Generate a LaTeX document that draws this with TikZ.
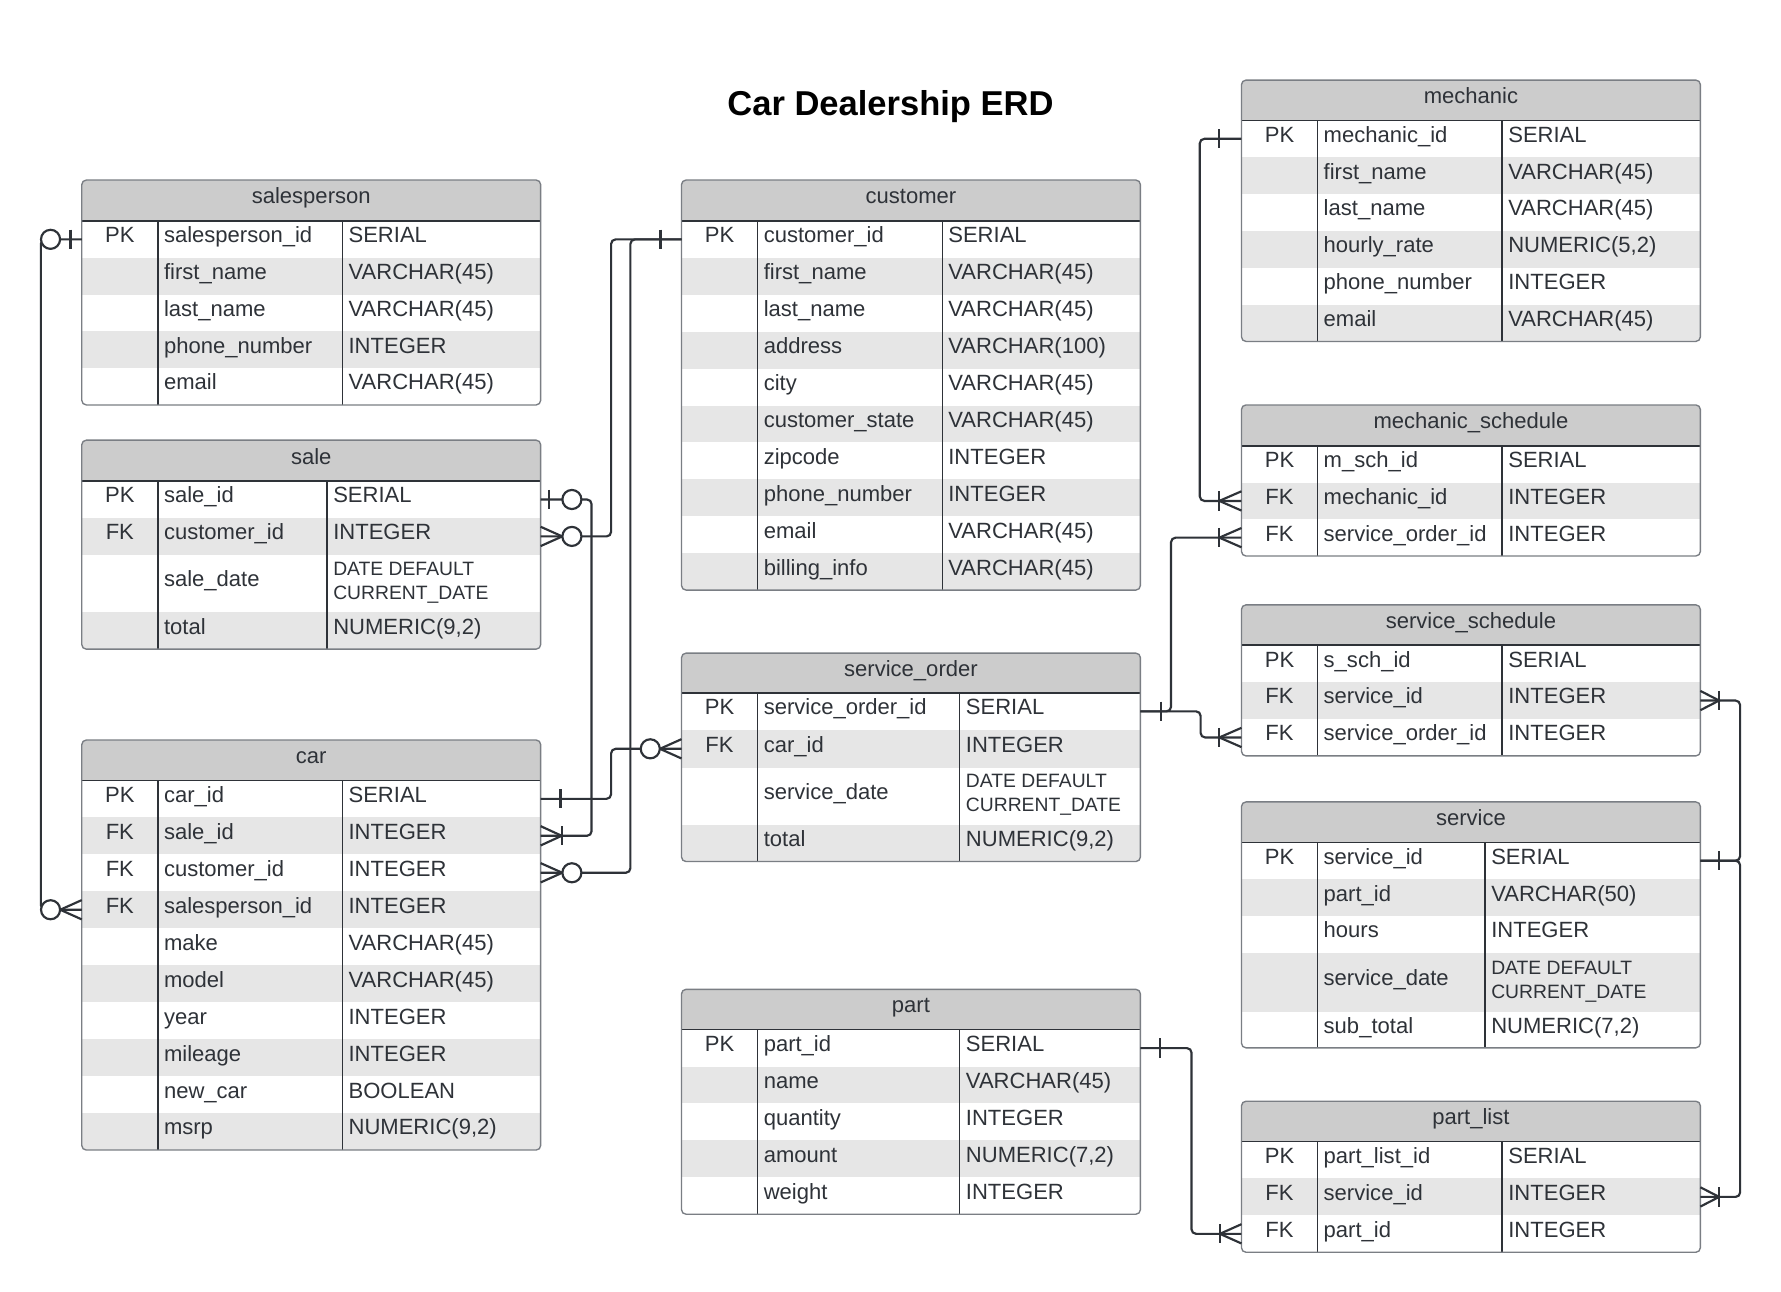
\documentclass[tikz,border=0pt]{standalone}
\usepackage{fontspec}
\setmainfont{Liberation Sans}
\usetikzlibrary{calc}
\definecolor{hdr}{HTML}{CCCCCC}
\definecolor{alt}{HTML}{E6E6E6}
\definecolor{ink}{HTML}{2E3238}
\definecolor{edge}{HTML}{7A7E84}
\definecolor{wirec}{HTML}{2E3238}
\newcommand\erdbody{\fontsize{9.7}{11.6}\selectfont}
\newcommand\erdsmall{\fontsize{8.5}{10.5}\selectfont}
\tikzset{
  rowbox/.style={inner sep=0pt, outer sep=0pt, minimum width=202pt, draw=none},
  keytxt/.style={inner sep=0pt, text=ink, font=\erdbody, text height=6pt, text depth=3pt, anchor=center},
  fldtxt/.style={inner sep=0pt, text=ink, font=\erdbody, text height=6pt, text depth=3pt, anchor=west},
  ddtxt/.style={inner sep=0pt, text=ink, font=\erdsmall, align=left, anchor=west},
  hdrtxt/.style={inner sep=0pt, text=ink, font=\erdbody, text height=6pt, text depth=3pt},
  divline/.style={draw=ink, line width=0.6pt},
  frame/.style={draw=edge, line width=0.6pt},
  wire/.style={draw=wirec, line width=0.95pt},
  wireroute/.style={wire, rounded corners=2pt},
}
% row: name, ytop, height, fill, key, field, type
\newcommand\erow[7]{%
  \node[rowbox, fill=#4, minimum height=#3*0.5pt, anchor=north west] (#1) at (\tx,#2) {};
  \node[keytxt] (#1k) at (\tx+33.5,#2+#3/2) {#5};
  \node[fldtxt] (#1f) at (\tx+72,#2+#3/2) {#6};
  \node[fldtxt] (#1t) at (\tx+\cb+5,#2+#3/2) {#7};
}
% two-line date row: name, ytop, height, fill, field
\newcommand\erowdd[5]{%
  \node[rowbox, fill=#4, minimum height=#3*0.5pt, anchor=north west] (#1) at (\tx,#2) {};
  \node[keytxt] (#1k) at (\tx+33.5,#2+#3/2) {};
  \node[fldtxt] (#1f) at (\tx+72,#2+#3/2) {#5};
  \node[ddtxt] (#1t) at (\tx+\cb+5,#2+#3/2-1) {DATE DEFAULT\\CURRENT\_DATE};
}
% table: name, x, top, header bottom, bottom, col2 offset, title, rows
\newcommand\etable[8]{%
  \def\tx{#2}\def\cb{#6}%
  \begin{scope}
    \clip[rounded corners=2pt] (#2,#3) rectangle (#2+404,#5);
    \fill[hdr] (#2,#3) rectangle (#2+404,#4);
    #8
  \end{scope}
  \draw[divline] (#2,#4) -- (#2+404,#4);
  \draw[divline] (#2+67,#4) -- (#2+67,#5);
  \draw[divline] (#2+#6,#4) -- (#2+#6,#5);
  \draw[frame, rounded corners=2pt] (#2,#3) rectangle (#2+404,#5);
  \node[hdrtxt] (#1) at (#2+202,{(#3+#4)/2}) {#7};
}
% end markers: point, direction (-1 left, 1 right), distance
\newcommand\mbar[3]{\begin{scope}[shift={(#1)},xscale=#2]\draw[wire] (#3,-8.5) -- (#3,8.5);\end{scope}}
\newcommand\mcrow[3]{\begin{scope}[shift={(#1)},xscale=#2]\draw[wire] (0,-8.5) -- (#3,0) -- (0,8.5);\end{scope}}
\newcommand\mring[3]{\begin{scope}[shift={(#1)},xscale=#2]\draw[wire,fill=white] (#3,0) circle[radius=4.2pt];\end{scope}}

\begin{document}
\begin{tikzpicture}[x=0.5pt,y=-0.5pt]
\fill[white] (0,0) rectangle (1568,1137);
\useasboundingbox (0,0) rectangle (1568,1137);

\node[font=\bfseries\fontsize{15.2}{18}\selectfont, text=black, inner sep=0pt] (title) at (784,93.5) {Car Dealership ERD};

\etable{sp}{72}{158.5}{194.5}{356.5}{229.5}{salesperson}{%
  \erow{sp-1}{194.5}{32.4}{white}{PK}{salesperson\_id}{SERIAL}
  \erow{sp-2}{226.9}{32.4}{alt}{}{first\_name}{VARCHAR(45)}
  \erow{sp-3}{259.3}{32.4}{white}{}{last\_name}{VARCHAR(45)}
  \erow{sp-4}{291.7}{32.4}{alt}{}{phone\_number}{INTEGER}
  \erow{sp-5}{324.1}{32.4}{white}{}{email}{VARCHAR(45)}
}

\etable{sale}{72}{387.5}{423.5}{571.5}{216}{sale}{%
  \erow{sale-1}{423.5}{32.5}{white}{PK}{sale\_id}{SERIAL}
  \erow{sale-2}{456}{32.5}{alt}{FK}{customer\_id}{INTEGER}
  \erowdd{sale-3}{488.5}{50.5}{white}{sale\_date}
  \erow{sale-4}{539}{32.5}{alt}{}{total}{NUMERIC(9,2)}
}

\etable{car}{72}{651.5}{687}{1012.5}{229.5}{car}{%
  \erow{car-1}{687}{32.55}{white}{PK}{car\_id}{SERIAL}
  \erow{car-2}{719.55}{32.55}{alt}{FK}{sale\_id}{INTEGER}
  \erow{car-3}{752.1}{32.55}{white}{FK}{customer\_id}{INTEGER}
  \erow{car-4}{784.65}{32.55}{alt}{FK}{salesperson\_id}{INTEGER}
  \erow{car-5}{817.2}{32.55}{white}{}{make}{VARCHAR(45)}
  \erow{car-6}{849.75}{32.55}{alt}{}{model}{VARCHAR(45)}
  \erow{car-7}{882.3}{32.55}{white}{}{year}{INTEGER}
  \erow{car-8}{914.85}{32.55}{alt}{}{mileage}{INTEGER}
  \erow{car-9}{947.4}{32.55}{white}{}{new\_car}{BOOLEAN}
  \erow{car-10}{979.95}{32.55}{alt}{}{msrp}{NUMERIC(9,2)}
}

\etable{cust}{600}{158.5}{194.5}{519.5}{229.5}{customer}{%
  \erow{cust-1}{194.5}{32.5}{white}{PK}{customer\_id}{SERIAL}
  \erow{cust-2}{227}{32.5}{alt}{}{first\_name}{VARCHAR(45)}
  \erow{cust-3}{259.5}{32.5}{white}{}{last\_name}{VARCHAR(45)}
  \erow{cust-4}{292}{32.5}{alt}{}{address}{VARCHAR(100)}
  \erow{cust-5}{324.5}{32.5}{white}{}{city}{VARCHAR(45)}
  \erow{cust-6}{357}{32.5}{alt}{}{customer\_state}{VARCHAR(45)}
  \erow{cust-7}{389.5}{32.5}{white}{}{zipcode}{INTEGER}
  \erow{cust-8}{422}{32.5}{alt}{}{phone\_number}{INTEGER}
  \erow{cust-9}{454.5}{32.5}{white}{}{email}{VARCHAR(45)}
  \erow{cust-10}{487}{32.5}{alt}{}{billing\_info}{VARCHAR(45)}
}

\etable{so}{600}{575}{610}{758.5}{245}{service\_order}{%
  \erow{so-1}{610}{32.5}{white}{PK}{service\_order\_id}{SERIAL}
  \erow{so-2}{642.5}{33.5}{alt}{FK}{car\_id}{INTEGER}
  \erowdd{so-3}{676}{50}{white}{service\_date}
  \erow{so-4}{726}{32.5}{alt}{}{total}{NUMERIC(9,2)}
}

\etable{part}{600}{871}{906.5}{1069}{245}{part}{%
  \erow{part-1}{906.5}{32.5}{white}{PK}{part\_id}{SERIAL}
  \erow{part-2}{939}{32.5}{alt}{}{name}{VARCHAR(45)}
  \erow{part-3}{971.5}{32.5}{white}{}{quantity}{INTEGER}
  \erow{part-4}{1004}{32.5}{alt}{}{amount}{NUMERIC(7,2)}
  \erow{part-5}{1036.5}{32.5}{white}{}{weight}{INTEGER}
}

\etable{mech}{1093}{70.5}{106}{300.6}{229.5}{mechanic}{%
  \erow{mech-1}{106}{32.43}{white}{PK}{mechanic\_id}{SERIAL}
  \erow{mech-2}{138.43}{32.43}{alt}{}{first\_name}{VARCHAR(45)}
  \erow{mech-3}{170.86}{32.43}{white}{}{last\_name}{VARCHAR(45)}
  \erow{mech-4}{203.29}{32.43}{alt}{}{hourly\_rate}{NUMERIC(5,2)}
  \erow{mech-5}{235.72}{32.43}{white}{}{phone\_number}{INTEGER}
  \erow{mech-6}{268.15}{32.45}{alt}{}{email}{VARCHAR(45)}
}

\etable{ms}{1093}{356.5}{392.5}{489.5}{229.5}{mechanic\_schedule}{%
  \erow{ms-1}{392.5}{32.33}{white}{PK}{m\_sch\_id}{SERIAL}
  \erow{ms-2}{424.83}{32.34}{alt}{FK}{mechanic\_id}{INTEGER}
  \erow{ms-3}{457.17}{32.33}{white}{FK}{service\_order\_id}{INTEGER}
}

\etable{ss}{1093}{532.5}{568}{665.5}{229.5}{service\_schedule}{%
  \erow{ss-1}{568}{32.5}{white}{PK}{s\_sch\_id}{SERIAL}
  \erow{ss-2}{600.5}{32.5}{alt}{FK}{service\_id}{INTEGER}
  \erow{ss-3}{633}{32.5}{white}{FK}{service\_order\_id}{INTEGER}
}

\etable{svc}{1093}{706}{741.5}{922.5}{214.5}{service}{%
  \erow{svc-1}{741.5}{32.5}{white}{PK}{service\_id}{SERIAL}
  \erow{svc-2}{774}{32.5}{alt}{}{part\_id}{VARCHAR(50)}
  \erow{svc-3}{806.5}{32.5}{white}{}{hours}{INTEGER}
  \erowdd{svc-4}{839}{52}{alt}{service\_date}
  \erow{svc-5}{891}{31.5}{white}{}{sub\_total}{NUMERIC(7,2)}
}

\etable{pl}{1093}{969.5}{1005}{1102.5}{229.5}{part\_list}{%
  \erow{pl-1}{1005}{32.5}{white}{PK}{part\_list\_id}{SERIAL}
  \erow{pl-2}{1037.5}{32.5}{alt}{FK}{service\_id}{INTEGER}
  \erow{pl-3}{1070}{32.5}{white}{FK}{part\_id}{INTEGER}
}

% connectors
\draw[wireroute] (sp-1.west) -- ++(-36,0) |- (car-4.west);
\draw[wireroute] (sale-1.east) -- ++(44.8,0) |- (car-2.east);
\draw[wireroute] (cust-1.west) -- ++(-62,0) |- (sale-2.east);
\draw[wireroute] (cust-1.west) -- ++(-45,0) |- (car-3.east);
\draw[wireroute] (car-1.east) -- ++(62,0) |- (so-2.west);
\draw[wireroute] (mech-1.west) -- ++(-36.7,0) |- (ms-2.west);
\draw[wireroute] (so-1.east) -- ++(27,0) |- (ms-3.west);
\draw[wireroute] (so-1.east) -- ++(53,0) |- (ss-3.west);
\draw[wireroute] (svc-1.east) -- ++(35,0) |- (ss-2.east);
\draw[wireroute] (svc-1.east) -- ++(35,0) |- (pl-2.east);
\draw[wireroute] (part-1.east) -- ++(45,0) |- (pl-3.west);

% end markers
\mbar{sp-1.west}{-1}{10}\mring{sp-1.west}{-1}{27.5}
\mcrow{car-4.west}{-1}{19}\mring{car-4.west}{-1}{27.5}
\mbar{sale-1.east}{1}{7}\mring{sale-1.east}{1}{27.5}
\mcrow{car-2.east}{1}{18.5}\mbar{car-2.east}{1}{18.5}
\mbar{cust-1.west}{-1}{18.5}
\mcrow{sale-2.east}{1}{19}\mring{sale-2.east}{1}{27.5}
\mcrow{car-3.east}{1}{19}\mring{car-3.east}{1}{27.5}
\mbar{car-1.east}{1}{17.5}
\mcrow{so-2.west}{-1}{19}\mring{so-2.west}{-1}{27.5}
\mbar{mech-1.west}{-1}{19.5}
\mcrow{ms-2.west}{-1}{19.5}\mbar{ms-2.west}{-1}{19.5}
\mbar{so-1.east}{1}{18}
\mcrow{ms-3.west}{-1}{19.5}\mbar{ms-3.west}{-1}{19.5}
\mcrow{ss-3.west}{-1}{19.5}\mbar{ss-3.west}{-1}{19.5}
\mbar{svc-1.east}{1}{16.5}
\mcrow{ss-2.east}{1}{16.5}\mbar{ss-2.east}{1}{16.5}
\mcrow{pl-2.east}{1}{16.5}\mbar{pl-2.east}{1}{16.5}
\mbar{part-1.east}{1}{17}
\mcrow{pl-3.west}{-1}{19}\mbar{pl-3.west}{-1}{19}
\end{tikzpicture}
\end{document}
